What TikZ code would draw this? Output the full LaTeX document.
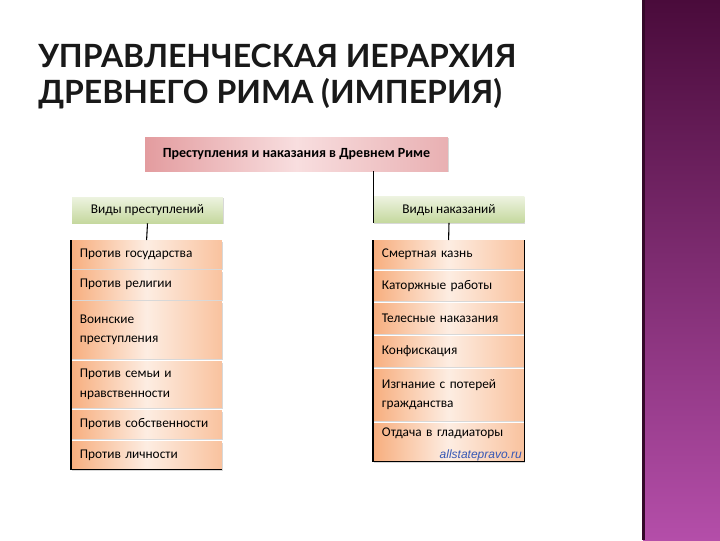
\documentclass[tikz,border=0pt]{standalone}
\usepackage{fontspec}
\setmainfont{Carlito}
\newfontfamily\zagfont{Lato}
\newfontfamily\vodfont{Liberation Sans}
\usetikzlibrary{shadows}

\definecolor{rozT}{HTML}{E39C9F}
\definecolor{rozS}{HTML}{F8DEDF}
\definecolor{zelV}{HTML}{EDF3E0}
\definecolor{zelN}{HTML}{C5D89E}
\definecolor{oranT}{HTML}{F7AE7E}
\definecolor{oranS}{HTML}{FDEDE2}
\definecolor{lilV}{HTML}{4A0B3B}
\definecolor{lilN}{HTML}{B44EA9}
\definecolor{vodsin}{HTML}{3557B5}

\tikzset{
  glavblok/.style={minimum width=227pt, minimum height=25.5pt, inner sep=0pt,
    left color=rozT, right color=rozT!80, middle color=rozS,
    drop shadow={shadow xshift=0.6pt, shadow yshift=-1pt, fill=black!30},
    font=\bfseries\fontsize{10.5}{12}\selectfont},
  vidblok/.style={minimum width=113pt, minimum height=19.5pt, inner sep=0pt,
    text height=1.6ex, text depth=0.4ex,
    top color=zelV, bottom color=zelN,
    drop shadow={shadow xshift=0.6pt, shadow yshift=-1pt, fill=black!30}},
  punkt/.style={anchor=north west, minimum width=113pt, text width=100pt,
    inner xsep=6.5pt, inner ysep=0pt, align=left,
    left color=oranT, right color=oranT!75, middle color=oranS,
    drop shadow={shadow xshift=0.6pt, shadow yshift=-1pt, fill=black!30}},
  liniya/.style={draw=black, line width=0.8pt}
}

\begin{document}
\begin{tikzpicture}[x=0.75pt, y=-0.75pt, font=\fontsize{10}{14.5}\selectfont]
  \useasboundingbox (0,0) rectangle (720,540);
  \fill[white] (0,0) rectangle (720,540);

  % bar on the right
  \shade[top color=lilV, bottom color=lilN] (643,0) rectangle (720,540);
  \fill[lilV!70!black] (642,0) rectangle (644.5,540);

  % title
  \node[anchor=base west, inner sep=0pt, text=black!90,
        font=\zagfont\bfseries\fontsize{24}{28}\selectfont] (zag1) at (38,67) {УПРАВЛЕНЧЕСКАЯ ИЕРАРХИЯ};
  \node[anchor=base west, inner sep=0pt, text=black!90,
        font=\zagfont\bfseries\fontsize{24}{28}\selectfont] (zag2) at (38,103) {ДРЕВНЕГО РИМА (ИМПЕРИЯ)};

  % top and the two kinds
  \node[glavblok] (glav) at (296.5,154) {Преступления и наказания в Древнем Риме};
  \node[vidblok] (vidPr) at (147.5,210) {Виды преступлений};
  \node[vidblok] (vidNak) at (449,209.5) {Виды наказаний};

  % crimes
  \node[punkt, minimum height=21pt] (pr1) at (71,240) {Против государства};
  \node[punkt, minimum height=21.75pt] (pr2) at (71,270) {Против религии};
  \node[punkt, minimum height=42.75pt] (pr3) at (71,301) {Воинские\\преступления};
  \node[punkt, minimum height=34.5pt] (pr4) at (71,361) {Против семьи и\\нравственности};
  \node[punkt, minimum height=21pt] (pr5) at (71,410) {Против собственности};
  \node[punkt, minimum height=21pt] (pr6) at (71,441) {Против личности};

  % punishments
  \node[punkt, minimum height=21pt] (nak1) at (373,240) {Смертная казнь};
  \node[punkt, minimum height=21.75pt] (nak2) at (373,271) {Каторжные работы};
  \node[punkt, minimum height=22.5pt] (nak3) at (373,303) {Телесные наказания};
  \node[punkt, minimum height=22.5pt] (nak4) at (373,336) {Конфискация};
  \node[punkt, minimum height=38.25pt] (nak5) at (373,369) {Изгнание с потерей\\гражданства};
  \node[punkt, minimum height=28.5pt] (nak6) at (373,423) {Отдача в гладиаторы\\[0pt]\mbox{}};

  \node[anchor=south east, inner sep=0pt, text=vodsin,
        font=\vodfont\itshape\fontsize{9}{10}\selectfont] (vodznak) at (522,461) {allstatepravo.ru};

  % lines
  \draw[liniya] (glav.south -| vidNak.west) -- (vidNak.south west);
  \draw[liniya] (vidPr.south) -- (pr1.north);
  \draw[liniya] (vidNak.south) -- (nak1.north);
  \draw[liniya] (pr1.north west) -- (pr6.south west) -- (pr6.south east);
  \draw[liniya] (nak1.north west) -- (nak6.south west) -- (nak6.south east) -- (nak1.north east);
\end{tikzpicture}
\end{document}
